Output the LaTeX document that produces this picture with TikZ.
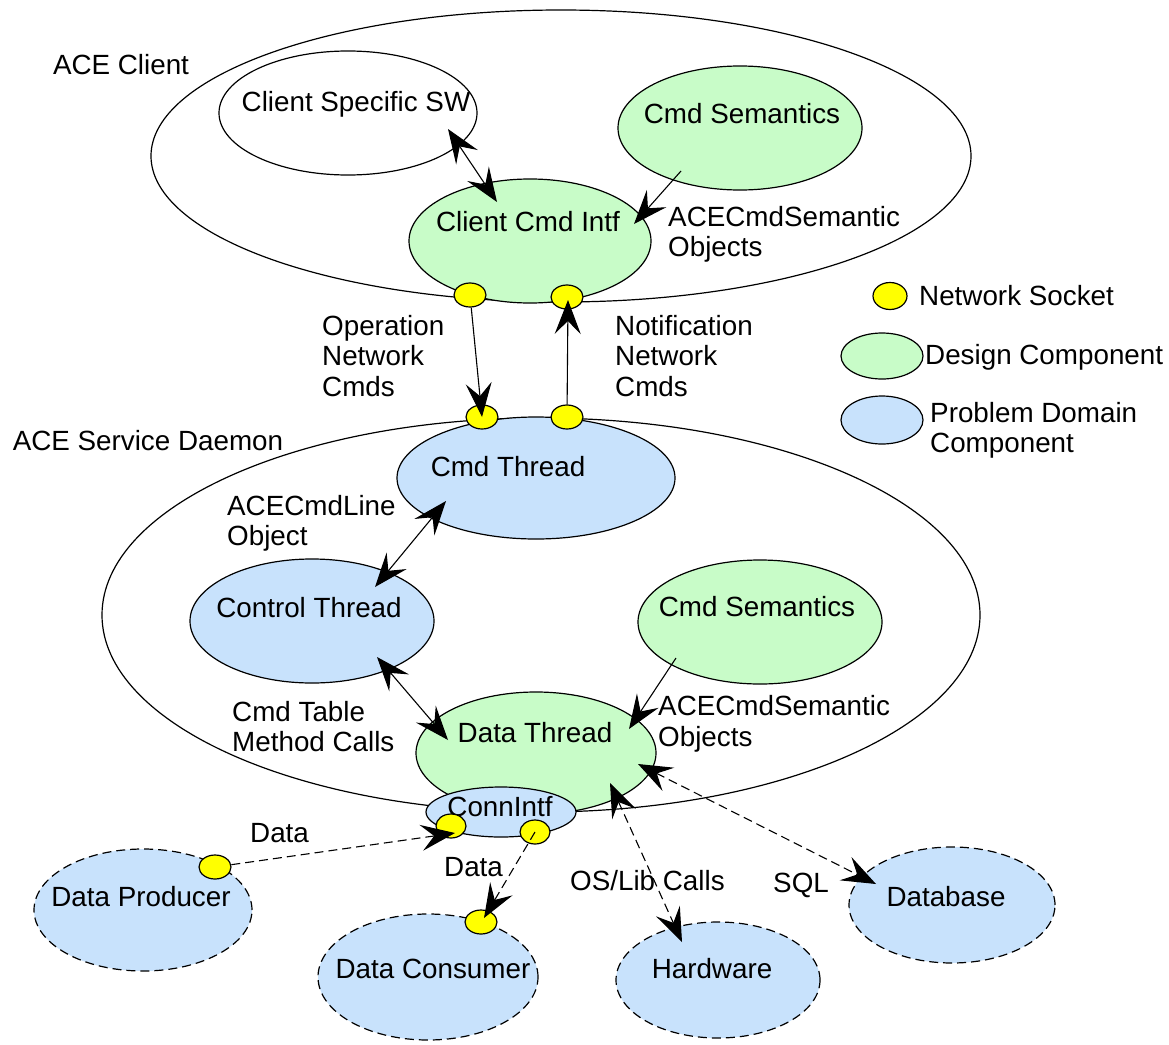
\documentclass[tikz,border=0pt]{standalone}
\usepackage{fontspec}
\setmainfont{Liberation Sans}
\usetikzlibrary{shapes.geometric,arrows.meta}
\definecolor{dgreen}{HTML}{C8FCC8}
\definecolor{pblue}{HTML}{C8E2FC}
\definecolor{sockyellow}{HTML}{FFFF00}
\begin{document}
\begin{tikzpicture}[x=1pt,y=-1pt,
  every node/.style={font=\fontsize{27.8}{30.5}\selectfont},
  ell/.style={ellipse,draw,line width=1.2pt,inner sep=0pt},
  design/.style={ell,fill=dgreen},
  problem/.style={ell,fill=pblue},
  ext/.style={ell,fill=pblue,dash pattern=on 9pt off 5pt},
  sock/.style={ell,fill=sockyellow,minimum width=32pt,minimum height=24pt},
  txt/.style={inner sep=0pt,anchor=base},
  mtxt/.style={inner sep=0pt,align=left,anchor=base west},
  arr/.style={line width=1.1pt,-{Stealth[length=34pt,width=26pt,inset=13pt]}},
  biarr/.style={line width=1.1pt,{Stealth[length=34pt,width=26pt,inset=13pt]}-{Stealth[length=34pt,width=26pt,inset=13pt]}},
  darr/.style={arr,dash pattern=on 9pt off 5pt},
  dbiarr/.style={biarr,dash pattern=on 9pt off 5pt}]
\useasboundingbox (0,0) rectangle (1169,1044);

% containers
\node[ell,minimum width=820pt,minimum height=292pt] (client) at (561,156) {};
\node[ell,minimum width=878pt,minimum height=394pt] (daemon) at (541,615) {};
\node[txt] (clientT) at (121,74) {ACE Client};
\node[txt] (daemonT) at (148,450) {ACE Service Daemon};

% client components
\node[ell,minimum width=258pt,minimum height=124pt] (csw) at (348,113) {};
\node[design,minimum width=244pt,minimum height=124pt] (csem1) at (740,128) {};
\node[design,minimum width=242pt,minimum height=124pt] (cci) at (530,241) {};
\node[txt] (cswT) at (356,111) {Client Specific SW};
\node[txt] (csem1T) at (742,123) {Cmd Semantics};
\node[txt] (cciT) at (528,231) {Client Cmd Intf};

% daemon components
\node[problem,minimum width=278pt,minimum height=122pt] (cmdt) at (536,478) {};
\node[problem,minimum width=244pt,minimum height=124pt] (ctrl) at (312,621) {};
\node[design,minimum width=244pt,minimum height=124pt] (csem2) at (760,622) {};
\node[design,minimum width=240pt,minimum height=122pt] (dt) at (536,753) {};
\node[problem,minimum width=150pt,minimum height=50pt] (ci) at (501,812) {};
\node[txt] (cmdtT) at (508,476) {Cmd Thread};
\node[txt] (ctrlT) at (309,617) {Control Thread};
\node[txt] (csem2T) at (757,616) {Cmd Semantics};
\node[txt] (dtT) at (535,742) {Data Thread};
\node[txt] (ciT) at (500,816) {ConnIntf};

% external components
\node[ext,minimum width=218pt,minimum height=122pt] (dp) at (143,910) {};
\node[ext,minimum width=220pt,minimum height=126pt] (dc) at (428,977) {};
\node[ext,minimum width=204pt,minimum height=116pt] (hw) at (718,980) {};
\node[ext,minimum width=206pt,minimum height=116pt] (db) at (952,905) {};
\node[txt] (dpT) at (141,906) {Data Producer};
\node[txt] (dcT) at (433,978) {Data Consumer};
\node[txt] (hwT) at (712,978) {Hardware};
\node[txt] (dbT) at (946,906) {Database};

% sockets
\node[sock] (s1) at (470,295) {};
\node[sock] (s2) at (567,297) {};
\node[sock] (s3) at (482,417) {};
\node[sock] (s4) at (567,417) {};
\node[sock,minimum width=30pt,minimum height=24pt] (cis1) at (451,826) {};
\node[sock,minimum width=30pt,minimum height=24pt] (cis2) at (535,832) {};
\node[sock] (dps) at (215,867) {};
\node[sock] (dcs) at (481,922) {};

% legend
\node[sock,minimum width=34pt,minimum height=27pt] (lsock) at (890,296) {};
\node[design,minimum width=82pt,minimum height=46pt] (ldes) at (882,356) {};
\node[problem,minimum width=82pt,minimum height=48pt] (lprob) at (882,420) {};
\node[txt,anchor=base west] (lsockT) at (919,305) {Network Socket};
\node[txt,anchor=base west] (ldesT) at (925,364) {Design Component};
\node[mtxt] (lprobT) at (930,452.5) {Problem Domain\\Component};

% connectors
\draw[biarr] ([shift={(100,16)}]csw.center) -- ([shift={(-33,-39)}]cci.center);
\draw[arr] ([shift={(-59,43)}]csem1.center) -- ([shift={(104,-17)}]cci.center);
\draw[arr] (s1) -- (s3.center);
\draw[arr] (s4) -- ([shift={(1,3)}]s2.center);
\draw[biarr] ([shift={(-90,23)}]cmdt.center) -- ([shift={(63,-34)}]ctrl.center);
\draw[biarr] ([shift={(65,36)}]ctrl.center) -- ([shift={(-88,-13)}]dt.center);
\draw[arr] ([shift={(-84,36)}]csem2.center) -- ([shift={(93,-24)}]dt.center);
\draw[dbiarr] ([shift={(102,11)}]dt.center) -- ([shift={(-76,-21)}]db.center);
\draw[dbiarr] ([shift={(74,30)}]dt.center) -- ([shift={(-36,-38)}]hw.center);
\draw[darr] (dps) -- ([shift={(4,7)}]cis1.center);
\draw[darr] (cis2.center) -- ([shift={(3,-4)}]dcs.center);

% connector labels
\node[mtxt] (opT) at (322,396) {Operation\\Network\\Cmds};
\node[mtxt] (notT) at (615,396) {Notification\\Network\\Cmds};
\node[mtxt] (sem1T) at (668,256.5) {ACECmdSemantic\\Objects};
\node[mtxt] (lineT) at (227,545.5) {ACECmdLine\\Object};
\node[mtxt] (tabT) at (232,751.5) {Cmd Table\\Method Calls};
\node[mtxt] (sem2T) at (658,746) {ACECmdSemantic\\Objects};
\node[txt,anchor=base west] (data1T) at (250,842) {Data};
\node[txt,anchor=base west] (data2T) at (444,876) {Data};
\node[txt,anchor=base west] (osT) at (570,890) {OS/Lib Calls};
\node[txt,anchor=base west] (sqlT) at (773,892) {SQL};
\end{tikzpicture}
\end{document}
